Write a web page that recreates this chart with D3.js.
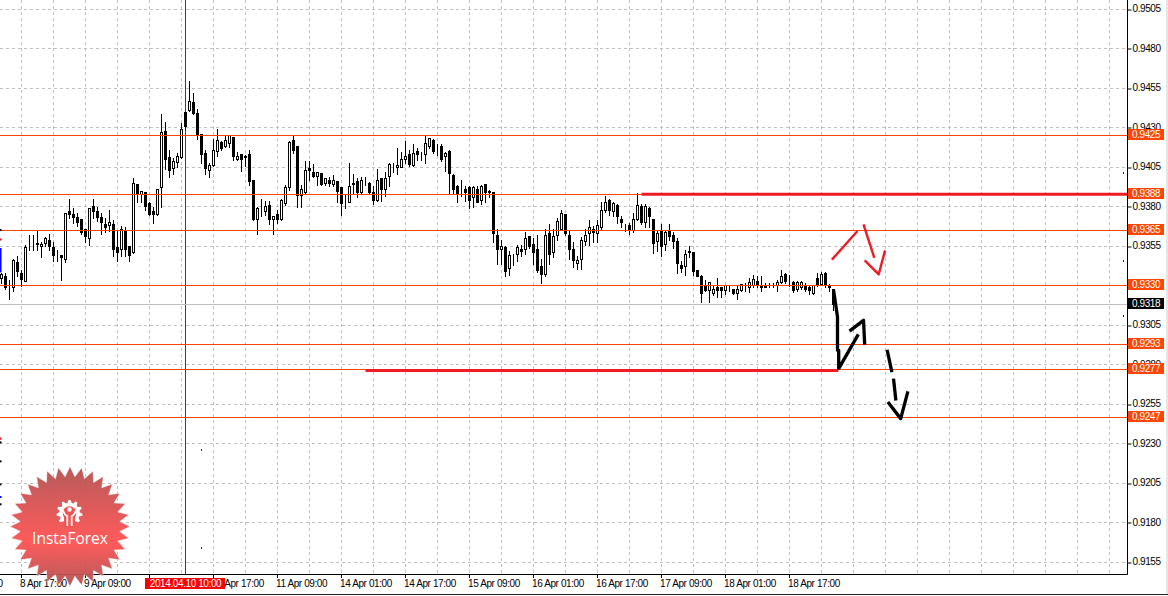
<!DOCTYPE html>
<html>
<head>
<meta charset="utf-8">
<title>InstaForex H1</title>
<script src="https://cdn.jsdelivr.net/npm/d3@7"></script>
<style>
  html, body { margin: 0; padding: 0; background: #fff; overflow: hidden; }
  svg { display: block; }
  text { font-family: "Liberation Sans", sans-serif; letter-spacing: -0.4px; }
</style>
</head>
<body>
<svg id="chart" width="1168" height="596"></svg>
<script>
// H1 candles (4 digit quotes)
const opens = [
  .9335,.9336,.9328,.9329,.9345,.9338,.9333,.9355,.9356,.9357,
  .9355,.9357,.9359,.9354,.9348,.9349,.9347,.9377,.9375,.9373,
  .9372,.9366,.9360,.9380,.9377,.9373,.9369,.9368,.9369,.9354,
  .9353,.9365,.9355,.9351,.9394,.9388,.9389,.9382,.9377,.9375,
  .9392,.9428,.9411,.9404,.9408,.9411,.9440,.9441,.9446,.9439,
  .9426,.9414,.9403,.9406,.9415,.9421,.9418,.9420,.9424,.9410,
  .9413,.9411,.9413,.9397,.9372,
  .9377,.9377,.9381,.9372,.9375,.9372,.9382,.9392,.9422,.9418,
  .9387,.9389,.9404,.9402,.9399,.9401,.9395,.9397,.9394,.9396,
  .9392,.9383,.9383,.9395,.9396,.9389,.9396,.9395,.9389,.9384,
  .9398,.9391,.9399,.9406,.9405,.9405,.9410,.9413,.9406,.9415,
  .9411,.9413,.9418,.9422,.9417,.9418,.9412,.9415,.9400,.9393,
  .9389,.9391,.9392,.9386,.9391,.9384,.9394,.9390,.9389,.9362,
  .9353,.9354,.9341,.9349,.9350,
  .9353,.9353,.9361,.9356,.9353,.9342,.9337,.9363,.9351,.9362,
  .9366,.9375,.9362,.9353,.9344,.9347,.9358,.9363,.9366,.9363,
  .9367,.9378,.9384,.9377,.9381,.9372,.9368,.9368,.9365,.9372,
  .9380,.9370,.9379,.9372,.9358,.9365,.9356,.9365,.9362,.9358,
  .9343,.9342,.9352,.9351,.9340,.9336,.9330,.9327,.9325,.9329,
  .9329,.9327,.9329,.9328,.9325,.9327,.9329,.9329,.9330,.9333,
  .9330,.9330,.9330,.9331,.9330,.9332,.9337,.9333,.9332,.9328,
  .9329,.9330,.9329,.9325,.9335,.9331,.9338,.9330,.9328
];
const closes = [
  .9337,.9329,.9328,.9346,.9339,.9334,.9354,.9355,.9356,.9356,
  .9356,.9360,.9355,.9349,.9348,.9348,.9376,.9375,.9373,.9370,
  .9364,.9361,.9379,.9377,.9373,.9370,.9367,.9370,.9353,.9351,
  .9366,.9353,.9349,.9395,.9388,.9390,.9380,.9375,.9375,.9391,
  .9427,.9410,.9403,.9409,.9412,.9429,.9431,.9447,.9439,.9425,
  .9413,.9404,.9406,.9416,.9422,.9417,.9422,.9425,.9412,.9412,
  .9410,.9412,.9396,.9372,.9379,
  .9377,.9380,.9372,.9374,.9372,.9384,.9392,.9421,.9416,.9387,
  .9391,.9403,.9403,.9399,.9402,.9394,.9398,.9395,.9397,.9390,
  .9382,.9383,.9393,.9394,.9389,.9397,.9396,.9389,.9384,.9397,
  .9391,.9398,.9407,.9406,.9406,.9410,.9412,.9407,.9414,.9413,
  .9411,.9420,.9423,.9415,.9417,.9410,.9414,.9401,.9391,.9388,
  .9389,.9389,.9384,.9392,.9383,.9393,.9389,.9389,.9363,.9353,
  .9355,.9339,.9349,.9349,.9354,
  .9352,.9360,.9355,.9351,.9340,.9337,.9362,.9350,.9361,.9371,
  .9376,.9363,.9353,.9346,.9346,.9359,.9362,.9367,.9364,.9368,
  .9378,.9383,.9378,.9382,.9374,.9370,.9368,.9365,.9372,.9381,
  .9370,.9380,.9374,.9357,.9363,.9355,.9364,.9361,.9358,.9344,
  .9341,.9350,.9351,.9339,.9336,.9325,.9327,.9332,.9328,.9327,
  .9327,.9330,.9329,.9325,.9328,.9331,.9329,.9332,.9334,.9330,
  .9329,.9329,.9330,.9331,.9332,.9336,.9333,.9333,.9327,.9332,
  .9332,.9328,.9327,.9330,.9331,.9337,.9330,.9329,.9318
];
const highs = [
  .9338,.9338,.9334,.9347,.9349,.9340,.9356,.9362,.9362,.9365,
  .9358,.9361,.9363,.9358,.9353,.9349,.9376,.9385,.9379,.9376,
  .9372,.9366,.9379,.9385,.9380,.9376,.9373,.9378,.9372,.9365,
  .9368,.9367,.9355,.9398,.9394,.9390,.9389,.9383,.9380,.9391,
  .9439,.9434,.9416,.9411,.9414,.9433,.9440,.9460,.9452,.9442,
  .9426,.9416,.9408,.9423,.9429,.9422,.9425,.9425,.9424,.9415,
  .9413,.9413,.9416,.9397,.9380,
  .9385,.9384,.9384,.9374,.9378,.9385,.9394,.9422,.9425,.9418,
  .9394,.9409,.9409,.9407,.9402,.9401,.9398,.9399,.9400,.9396,
  .9392,.9388,.9408,.9401,.9398,.9399,.9399,.9396,.9393,.9404,
  .9398,.9402,.9408,.9408,.9417,.9415,.9422,.9416,.9420,.9417,
  .9415,.9425,.9423,.9423,.9420,.9420,.9415,.9416,.9401,.9394,
  .9397,.9393,.9393,.9393,.9393,.9394,.9394,.9391,.9389,.9366,
  .9359,.9355,.9352,.9350,.9356,
  .9356,.9364,.9361,.9360,.9362,.9347,.9366,.9369,.9366,.9373,
  .9378,.9375,.9365,.9358,.9349,.9361,.9366,.9372,.9368,.9372,
  .9383,.9387,.9385,.9383,.9382,.9374,.9369,.9370,.9376,.9389,
  .9382,.9382,.9380,.9372,.9365,.9369,.9365,.9369,.9364,.9360,
  .9346,.9353,.9355,.9351,.9340,.9337,.9334,.9332,.9330,.9335,
  .9329,.9330,.9330,.9328,.9330,.9331,.9332,.9335,.9337,.9336,
  .9336,.9332,.9332,.9332,.9334,.9340,.9338,.9337,.9333,.9333,
  .9333,.9332,.9330,.9330,.9338,.9339,.9339,.9331,.9328
];
const lows = [
  .9332,.9328,.9322,.9327,.9336,.9330,.9333,.9353,.9353,.9353,
  .9348,.9355,.9353,.9346,.9346,.9334,.9345,.9373,.9370,.9368,
  .9363,.9358,.9356,.9373,.9371,.9363,.9364,.9365,.9349,.9346,
  .9349,.9349,.9346,.9351,.9383,.9383,.9378,.9375,.9370,.9375,
  .9380,.9404,.9399,.9401,.9405,.9411,.9429,.9441,.9439,.9423,
  .9408,.9401,.9399,.9406,.9412,.9416,.9418,.9418,.9410,.9410,
  .9403,.9406,.9394,.9372,.9363,
  .9374,.9375,.9369,.9363,.9370,.9372,.9381,.9391,.9414,.9380,
  .9380,.9389,.9397,.9399,.9394,.9394,.9394,.9393,.9393,.9383,
  .9375,.9379,.9383,.9389,.9386,.9389,.9394,.9389,.9382,.9384,
  .9384,.9387,.9393,.9402,.9401,.9405,.9408,.9406,.9406,.9410,
  .9410,.9408,.9417,.9414,.9413,.9409,.9403,.9388,.9388,.9383,
  .9387,.9384,.9379,.9380,.9383,.9382,.9383,.9386,.9358,.9344,
  .9344,.9336,.9337,.9343,.9346,
  .9349,.9350,.9354,.9344,.9339,.9332,.9336,.9344,.9348,.9359,
  .9366,.9362,.9347,.9342,.9341,.9341,.9356,.9356,.9358,.9358,
  .9366,.9377,.9375,.9374,.9370,.9367,.9365,.9363,.9364,.9372,
  .9369,.9367,.9367,.9351,.9352,.9349,.9353,.9359,.9354,.9338,
  .9339,.9337,.9348,.9337,.9336,.9320,.9327,.9320,.9324,.9323,
  .9323,.9325,.9327,.9325,.9322,.9327,.9327,.9326,.9329,.9329,
  .9327,.9329,.9329,.9329,.9327,.9332,.9332,.9330,.9326,.9327,
  .9328,.9327,.9325,.9325,.9330,.9331,.9329,.9327,.9315
];

const priceTicks = [.9505,.9480,.9455,.9430,.9405,.9380,.9355,.9305,.9280,.9255,.9230,.9205,.9180,.9155];
const levels = [.9425,.9388,.9365,.9330,.9293,.9277,.9247];
const bidPrice = .9318;

// bar 5 is 8 Apr 17:00, a time label every 16 bars
const timeLabels = ["8 Apr 01:00","8 Apr 17:00","9 Apr 09:00","10 Apr 01:00","10 Apr 17:00","11 Apr 09:00",
  "14 Apr 01:00","14 Apr 17:00","15 Apr 09:00","16 Apr 01:00","16 Apr 17:00","17 Apr 09:00","18 Apr 01:00","18 Apr 17:00"];
const firstLabelBar = -11;
const crossBar = 46;
const crossLabel = "2014.04.10 10:00";

// hand drawn marks as [bar, price]
const thickLevels = [[160, .9388, 281.4], [91, .92765, 209.2]];
const redStrokes = [
  [[207.6,.93466],[214,.93647]],
  [[215.5,.93689],[218.2,.93478]],
  [[215.8,.93461],[219.3,.93373],[220.9,.93525]]
];
const blackStrokes = [
  [[208,.93276],[209,.93103],[209,.92892],[209.3,.92892],[209.3,.92776],[214.2,.92993]],
  [[212,.93014],[215.5,.93082],[215.8,.92928]],
  [[221.4,.92896],[222.6,.92754]],
  [[223,.92713],[223.6,.92575]],
  [[221.6,.92565],[224.8,.9246],[226.6,.92632]]
];

// leftover specks on the chart
const specks = [[50,.92265,"#600080"],[50,.91645,"#600080"],[280.5,.9402,"#222"],[280.5,.9346,"#222"],[280.5,.9311,"#222"]];
const edgeMarks = [[.9366,.9365,"#000"],[.9360,.9359,"#f00"],[.9354,.93385,"#00f"],[.9234,.9233,"#f00"],
  [.92316,.92303,"#000"],[.92196,.9219,"#000"],[.9205,.9204,"#000"],[.9197,.9196,"#00f"],[.91924,.9192,"#000"]];

const candles = opens.map((o, i) => ({ i, o, c: closes[i], h: highs[i], l: lows[i] }));

const plotRight = 1127;
const plotBottom = 574;
const svg = d3.select("#chart");

// 4 px per bar, wick of bar 0 sits in pixel column 1
const x = d3.scaleLinear().domain([0, 281.375]).range([1.5, plotRight]);
const y = d3.scaleLinear().domain([.9155, .9505]).range([562.4, 9.4]);
const crisp = (v) => Math.floor(v) + 0.5;

// Grid
const grid = svg.append("g").attr("stroke", "#c0c0c0").attr("stroke-dasharray", "3,3");
grid.selectAll("line.h")
  .data(priceTicks)
  .enter()
  .append("line")
  .attr("x1", 0)
  .attr("x2", plotRight)
  .attr("y1", (d) => crisp(y(d)))
  .attr("y2", (d) => crisp(y(d)));
grid.selectAll("line.v")
  .data(d3.range(5, 280, 8))
  .enter()
  .append("line")
  .attr("x1", (d) => x(d))
  .attr("x2", (d) => x(d))
  .attr("y1", 0)
  .attr("y2", plotBottom);

// Crosshair
svg.append("line")
  .attr("x1", x(crossBar)).attr("x2", x(crossBar))
  .attr("y1", 0).attr("y2", plotBottom)
  .attr("stroke", "#b01010");

// Bid line
svg.append("line")
  .attr("x1", 0).attr("x2", plotRight)
  .attr("y1", crisp(y(bidPrice))).attr("y2", crisp(y(bidPrice)))
  .attr("stroke", "#c0c0c0");

// Candles
svg.append("g").selectAll("line")
  .data(candles)
  .enter()
  .append("line")
  .attr("x1", (d) => x(d.i)).attr("x2", (d) => x(d.i))
  .attr("y1", (d) => Math.round(y(d.h)))
  .attr("y2", (d) => Math.round(y(d.l)) + 1)
  .attr("stroke", "#000");
svg.append("g").selectAll("rect")
  .data(candles)
  .enter()
  .append("rect")
  .attr("x", (d) => x(d.i) - 1)
  .attr("width", 2)
  .attr("y", (d) => crisp(y(Math.max(d.o, d.c))))
  .attr("height", (d) => crisp(y(Math.min(d.o, d.c))) - crisp(y(Math.max(d.o, d.c))))
  .attr("fill", (d) => (d.c > d.o ? "#fff" : "#000"))
  .attr("stroke", "#000");

// Horizontal levels
svg.append("g").selectAll("line")
  .data(levels)
  .enter()
  .append("line")
  .attr("x1", 0).attr("x2", plotRight)
  .attr("y1", (d) => crisp(y(d))).attr("y2", (d) => crisp(y(d)))
  .attr("stroke", "#ff4500");

// Hand drawn annotations
svg.append("g").selectAll("line")
  .data(thickLevels)
  .enter()
  .append("line")
  .attr("x1", (d) => x(d[0])).attr("x2", (d) => x(d[2]))
  .attr("y1", (d) => y(d[1])).attr("y2", (d) => y(d[1]))
  .attr("stroke", "#ed1c24")
  .attr("stroke-width", 3);

const strokeLine = d3.line().x((d) => x(d[0])).y((d) => y(d[1]));
svg.append("g").selectAll("path")
  .data(redStrokes)
  .enter()
  .append("path")
  .attr("d", strokeLine)
  .attr("fill", "none")
  .attr("stroke", "#ed1c24")
  .attr("stroke-width", 2.4)
  .attr("stroke-linejoin", "round");
svg.append("g").selectAll("path")
  .data(blackStrokes)
  .enter()
  .append("path")
  .attr("d", strokeLine)
  .attr("fill", "none")
  .attr("stroke", "#000")
  .attr("stroke-width", 3.3)
  .attr("stroke-linejoin", "round");

// Specks
svg.append("g").selectAll("rect")
  .data(specks)
  .enter()
  .append("rect")
  .attr("x", (d) => Math.floor(x(d[0])))
  .attr("y", (d) => Math.floor(y(d[1])))
  .attr("width", 1)
  .attr("height", 2)
  .attr("fill", (d) => d[2]);
svg.append("g").selectAll("rect")
  .data(edgeMarks)
  .enter()
  .append("rect")
  .attr("x", 0)
  .attr("y", (d) => y(d[0]))
  .attr("width", 1.5)
  .attr("height", (d) => Math.max(y(d[1]) - y(d[0]), 2))
  .attr("fill", (d) => d[2]);

// Axes
const rightAxis = d3.axisRight(y)
  .tickValues(priceTicks)
  .tickSize(4)
  .tickPadding(1)
  .tickFormat(d3.format(".4f"));
const axisR = svg.append("g")
  .attr("transform", `translate(${plotRight + 0.5},0)`)
  .call(rightAxis);
axisR.select(".domain").remove();
axisR.selectAll("line").attr("y1", 0).attr("y2", 0).attr("stroke", "#000")
  .attr("transform", (d) => `translate(0,${crisp(y(d)) - y(d)})`);
axisR.selectAll("text")
  .attr("y", -1)
  .attr("font-size", "10px")
  .attr("font-family", '"Liberation Sans", sans-serif')
  .attr("fill", "#000");

// Spines
svg.append("path")
  .attr("d", `M0,${plotBottom + 0.5}H${plotRight + 0.5}V0`)
  .attr("fill", "none")
  .attr("stroke", "#000");

// Time axis
const timeAxis = svg.append("g").selectAll("g")
  .data(timeLabels)
  .enter()
  .append("g")
  .attr("transform", (d, i) => `translate(${x(firstLabelBar + i * 16)},${plotBottom})`);
timeAxis.append("line").attr("y1", 0).attr("y2", 4).attr("stroke", "#000");
timeAxis.append("text")
  .attr("x", -1.5)
  .attr("y", 13)
  .attr("font-size", "10px")
  .attr("fill", "#000")
  .text((d) => d);

// Crosshair time label
const crossBox = svg.append("g").attr("transform", `translate(${x(crossBar)},0)`);
crossBox.append("rect")
  .attr("x", -40.5).attr("y", 578)
  .attr("width", 80).attr("height", 11)
  .attr("fill", "#f00");
crossBox.append("text")
  .attr("x", 0).attr("y", 587)
  .attr("text-anchor", "middle")
  .attr("font-size", "10px")
  .attr("fill", "#fff")
  .text(crossLabel);

// Price boxes
const boxes = svg.append("g").selectAll("g")
  .data(levels.map((v) => [v, "#ff4500"]).concat([[bidPrice, "#000"]]))
  .enter()
  .append("g")
  .attr("transform", (d) => `translate(${plotRight + 1},${crisp(y(d[0]))})`);
boxes.append("rect")
  .attr("x", 0).attr("y", -6.5)
  .attr("width", 36).attr("height", 11)
  .attr("fill", (d) => d[1]);
boxes.append("text")
  .attr("x", 4).attr("y", 2.5)
  .attr("font-size", "10px")
  .attr("fill", "#fff")
  .text((d) => d[0].toFixed(4));

// Window edge
svg.append("rect").attr("x", 0).attr("y", 594).attr("width", 1168).attr("height", 1).attr("fill", "#222");
svg.append("rect").attr("x", 1166).attr("y", 0).attr("width", 2).attr("height", 594).attr("fill", "#e6e6e6");

// Logo badge
const defs = svg.append("defs");
const grad = defs.append("linearGradient")
  .attr("id", "badge")
  .attr("x1", 0).attr("x2", 0).attr("y1", 0).attr("y2", 1);
grad.append("stop").attr("offset", "0%").attr("stop-color", "#b25252");
grad.append("stop").attr("offset", "62%").attr("stop-color", "#ff5252");
grad.append("stop").attr("offset", "100%").attr("stop-color", "#b25252");

const badge = svg.append("g").attr("transform", "translate(70,526.5)");
const starPoints = d3.range(64).map((i) => [(i * Math.PI) / 32, i % 2 ? 50 : 60]);
badge.append("path")
  .attr("d", d3.lineRadial().curve(d3.curveLinearClosed)(starPoints))
  .attr("fill", "url(#badge)")
  .attr("fill-opacity", 0.95)
  .attr("stroke", "#fff")
  .attr("stroke-opacity", 0.6)
  .attr("stroke-width", 0.8);

const gear = badge.append("g").attr("transform", "translate(-0.5,-13.5)");
const gearPoints = d3.range(44).map((i) => [((i - 0.5) * Math.PI) / 22, i % 4 < 2 ? 13 : 10.2]);
gear.append("path")
  .attr("d", d3.lineRadial().curve(d3.curveLinearClosed)(gearPoints))
  .attr("fill", "#fff");
gear.append("circle").attr("r", 6.8).attr("fill", "#f25252");
gear.append("rect").attr("x", -5.5).attr("y", 3).attr("width", 11).attr("height", 11).attr("fill", "#f25252");
gear.append("circle").attr("cy", -3.5).attr("r", 2.2).attr("fill", "#fff");
gear.append("path")
  .attr("d", "M-6.5,-2.5Q-5,2 -2.2,3V13M6.5,-2.5Q5,2 2.2,3V13")
  .attr("fill", "none")
  .attr("stroke", "#fff")
  .attr("stroke-width", 1.8);

badge.append("text")
  .attr("x", 0)
  .attr("y", 17)
  .attr("text-anchor", "middle")
  .style("font-family", '"Open Sans", sans-serif')
  .style("letter-spacing", "0")
  .attr("font-size", "15.5px")
  .attr("fill", "#fff")
  .text("InstaForex");
</script>
</body>
</html>
